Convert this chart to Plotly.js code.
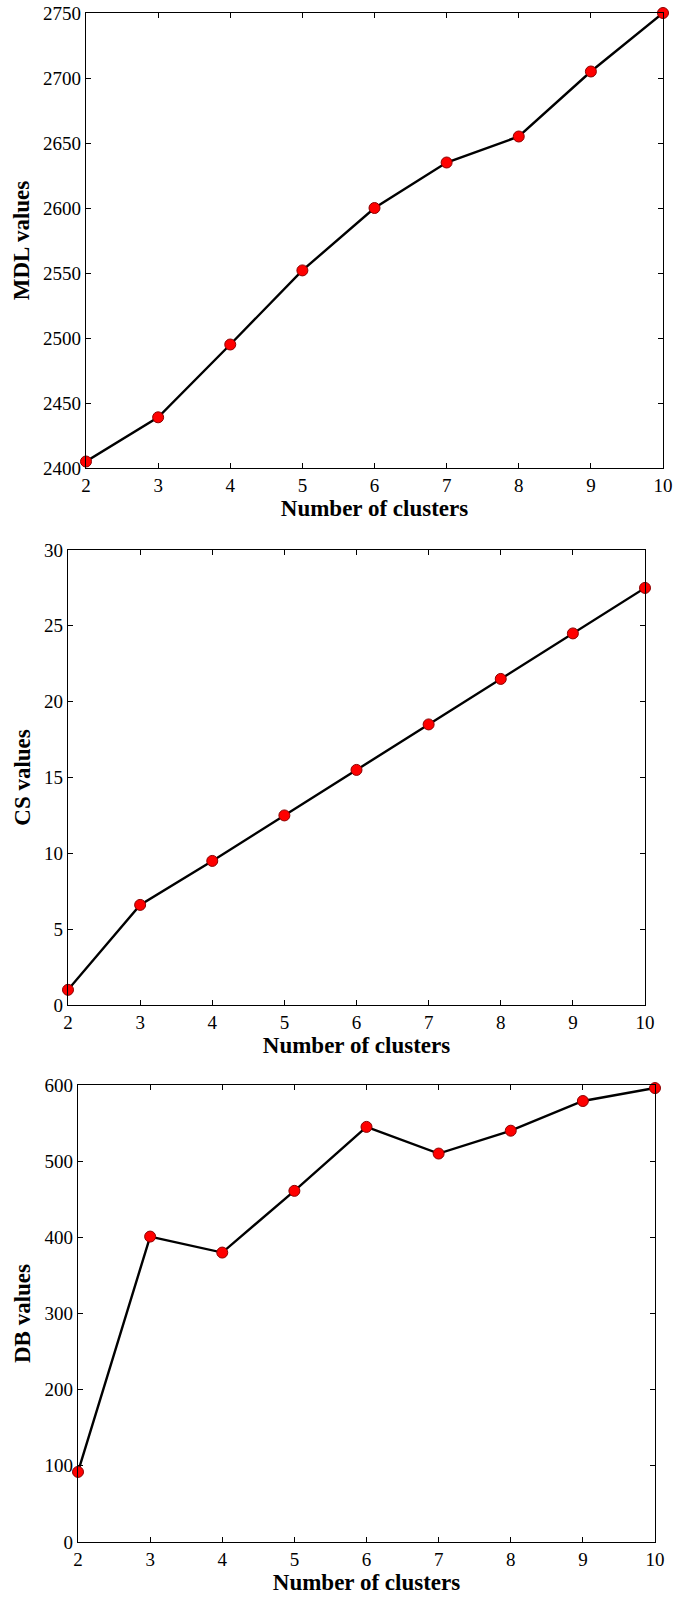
<!DOCTYPE html>
<html>
<head>
<meta charset="utf-8">
<script src="https://cdn.plot.ly/plotly-3.0.1.min.js"></script>
<style>html,body{margin:0;padding:0;background:#fff;}#chart{width:674px;height:1597px;}</style>
</head>
<body>
<div id="chart"></div>
<script>
const clusters = [2, 3, 4, 5, 6, 7, 8, 9, 10];
const mdlValues = [2405, 2439, 2495, 2552, 2600, 2635, 2655, 2705, 2750];
const csValues = [1.0, 6.6, 9.5, 12.5, 15.5, 18.5, 21.5, 24.5, 27.5];
const dbValues = [92, 401, 380, 461, 545, 510, 540, 579, 596];
const xTitle = "Number of clusters";
const yTitles = ["MDL values", "CS values", "DB values"];

const W = 674, H = 1597;
const boxes = [
  {l: 86, r: 663, t: 13, b: 468, range: [2400, 2750], dtick: 50},
  {l: 68, r: 645, t: 550, b: 1005, range: [0, 30], dtick: 5},
  {l: 78, r: 655, t: 1085, b: 1542, range: [0, 600], dtick: 100}
];
const series = [mdlValues, csValues, dbValues];

const tickFont = {family: "Liberation Serif, Times New Roman, serif", size: 19, color: "#000"};
const titleFont = {family: "Liberation Serif, Times New Roman, serif", size: 23, color: "#000", weight: "bold"};

const traces = [];
const layout = {
  width: W, height: H,
  margin: {l: 0, r: 0, t: 0, b: 0},
  paper_bgcolor: "#fff", plot_bgcolor: "#fff",
  showlegend: false
};

boxes.forEach((bx, i) => {
  const n = i === 0 ? "" : String(i + 1);
  traces.push({
    x: clusters, y: series[i],
    xaxis: "x" + n, yaxis: "y" + n,
    type: "scatter", mode: "lines+markers",
    line: {color: "#000", width: 2.4},
    marker: {color: "#ff0000", size: 11, line: {color: "#8b0000", width: 1}},
    cliponaxis: false,
    hoverinfo: "x+y"
  });
  const axCommon = {
    showgrid: false, zeroline: false,
    showline: true, linecolor: "#000", linewidth: 1.3,
    mirror: "ticks", ticks: "inside", ticklen: 5, tickcolor: "#000", tickwidth: 1,
    tickfont: tickFont, fixedrange: true
  };
  layout["xaxis" + n] = Object.assign({}, axCommon, {
    domain: [bx.l / W, bx.r / W],
    anchor: "y" + n,
    range: [2, 10], tick0: 2, dtick: 1,
    title: {text: xTitle, font: titleFont, standoff: 3}
  });
  layout["yaxis" + n] = Object.assign({}, axCommon, {
    domain: [1 - bx.b / H, 1 - bx.t / H],
    anchor: "x" + n,
    range: bx.range, tick0: 0, dtick: bx.dtick,
    title: {text: yTitles[i], font: titleFont, standoff: 7}
  });
});

Plotly.newPlot("chart", traces, layout, {displayModeBar: false, staticPlot: true});
</script>
</body>
</html>
